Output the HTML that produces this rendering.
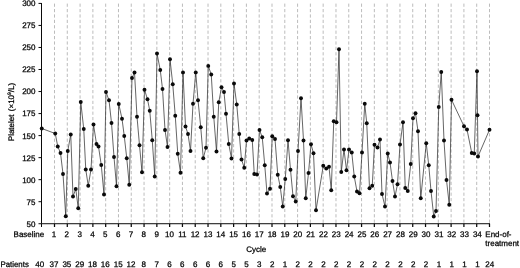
<!DOCTYPE html><html><head><meta charset="utf-8"><style>html,body{margin:0;padding:0;background:#fff}svg{display:block}text{text-rendering:geometricPrecision;font-family:"Liberation Sans",sans-serif;font-size:8px;fill:#000;stroke:#000;stroke-width:0.25px}</style></head><body>
<svg width="520" height="268" viewBox="0 0 520 268">
<rect width="520" height="268" fill="#fff"/>
<g stroke="#b0b0b0" stroke-width="0.85" stroke-dasharray="3.2 2.2" fill="none">
<line x1="54.50" y1="3.6" x2="54.50" y2="223.3"/>
<line x1="67.29" y1="3.6" x2="67.29" y2="223.3"/>
<line x1="80.09" y1="3.6" x2="80.09" y2="223.3"/>
<line x1="92.88" y1="3.6" x2="92.88" y2="223.3"/>
<line x1="105.68" y1="3.6" x2="105.68" y2="223.3"/>
<line x1="118.47" y1="3.6" x2="118.47" y2="223.3"/>
<line x1="131.26" y1="3.6" x2="131.26" y2="223.3"/>
<line x1="144.06" y1="3.6" x2="144.06" y2="223.3"/>
<line x1="156.85" y1="3.6" x2="156.85" y2="223.3"/>
<line x1="169.65" y1="3.6" x2="169.65" y2="223.3"/>
<line x1="182.44" y1="3.6" x2="182.44" y2="223.3"/>
<line x1="195.23" y1="3.6" x2="195.23" y2="223.3"/>
<line x1="208.03" y1="3.6" x2="208.03" y2="223.3"/>
<line x1="220.82" y1="3.6" x2="220.82" y2="223.3"/>
<line x1="233.62" y1="3.6" x2="233.62" y2="223.3"/>
<line x1="246.41" y1="3.6" x2="246.41" y2="223.3"/>
<line x1="259.20" y1="3.6" x2="259.20" y2="223.3"/>
<line x1="272.00" y1="3.6" x2="272.00" y2="223.3"/>
<line x1="284.79" y1="3.6" x2="284.79" y2="223.3"/>
<line x1="297.59" y1="3.6" x2="297.59" y2="223.3"/>
<line x1="310.38" y1="3.6" x2="310.38" y2="223.3"/>
<line x1="323.17" y1="3.6" x2="323.17" y2="223.3"/>
<line x1="335.97" y1="3.6" x2="335.97" y2="223.3"/>
<line x1="348.76" y1="3.6" x2="348.76" y2="223.3"/>
<line x1="361.56" y1="3.6" x2="361.56" y2="223.3"/>
<line x1="374.35" y1="3.6" x2="374.35" y2="223.3"/>
<line x1="387.14" y1="3.6" x2="387.14" y2="223.3"/>
<line x1="399.94" y1="3.6" x2="399.94" y2="223.3"/>
<line x1="412.73" y1="3.6" x2="412.73" y2="223.3"/>
<line x1="425.53" y1="3.6" x2="425.53" y2="223.3"/>
<line x1="438.32" y1="3.6" x2="438.32" y2="223.3"/>
<line x1="451.11" y1="3.6" x2="451.11" y2="223.3"/>
<line x1="463.91" y1="3.6" x2="463.91" y2="223.3"/>
<line x1="476.70" y1="3.6" x2="476.70" y2="223.3"/>
<line x1="489.50" y1="3.6" x2="489.50" y2="223.3"/>
</g>
<g stroke="#0a0a0a" stroke-width="1" fill="none">
<path d="M41.50 3.05V223.72H490.00"/>
<line x1="38.5" x2="41.50" y1="223.72" y2="223.72"/>
<line x1="38.5" x2="41.50" y1="201.69" y2="201.69"/>
<line x1="38.5" x2="41.50" y1="179.66" y2="179.66"/>
<line x1="38.5" x2="41.50" y1="157.63" y2="157.63"/>
<line x1="38.5" x2="41.50" y1="135.60" y2="135.60"/>
<line x1="38.5" x2="41.50" y1="113.57" y2="113.57"/>
<line x1="38.5" x2="41.50" y1="91.54" y2="91.54"/>
<line x1="38.5" x2="41.50" y1="69.51" y2="69.51"/>
<line x1="38.5" x2="41.50" y1="47.48" y2="47.48"/>
<line x1="38.5" x2="41.50" y1="25.45" y2="25.45"/>
<line x1="38.5" x2="41.50" y1="3.42" y2="3.42"/>
<line x1="41.50" x2="41.50" y1="223.72" y2="227"/>
<line x1="54.50" x2="54.50" y1="223.72" y2="227" stroke-width="1.25"/>
<line x1="67.29" x2="67.29" y1="223.72" y2="227" stroke-width="1.25"/>
<line x1="80.09" x2="80.09" y1="223.72" y2="227" stroke-width="1.25"/>
<line x1="92.88" x2="92.88" y1="223.72" y2="227" stroke-width="1.25"/>
<line x1="105.68" x2="105.68" y1="223.72" y2="227" stroke-width="1.25"/>
<line x1="118.47" x2="118.47" y1="223.72" y2="227" stroke-width="1.25"/>
<line x1="131.26" x2="131.26" y1="223.72" y2="227" stroke-width="1.25"/>
<line x1="144.06" x2="144.06" y1="223.72" y2="227" stroke-width="1.25"/>
<line x1="156.85" x2="156.85" y1="223.72" y2="227" stroke-width="1.25"/>
<line x1="169.65" x2="169.65" y1="223.72" y2="227" stroke-width="1.25"/>
<line x1="182.44" x2="182.44" y1="223.72" y2="227" stroke-width="1.25"/>
<line x1="195.23" x2="195.23" y1="223.72" y2="227" stroke-width="1.25"/>
<line x1="208.03" x2="208.03" y1="223.72" y2="227" stroke-width="1.25"/>
<line x1="220.82" x2="220.82" y1="223.72" y2="227" stroke-width="1.25"/>
<line x1="233.62" x2="233.62" y1="223.72" y2="227" stroke-width="1.25"/>
<line x1="246.41" x2="246.41" y1="223.72" y2="227" stroke-width="1.25"/>
<line x1="259.20" x2="259.20" y1="223.72" y2="227" stroke-width="1.25"/>
<line x1="272.00" x2="272.00" y1="223.72" y2="227" stroke-width="1.25"/>
<line x1="284.79" x2="284.79" y1="223.72" y2="227" stroke-width="1.25"/>
<line x1="297.59" x2="297.59" y1="223.72" y2="227" stroke-width="1.25"/>
<line x1="310.38" x2="310.38" y1="223.72" y2="227" stroke-width="1.25"/>
<line x1="323.17" x2="323.17" y1="223.72" y2="227" stroke-width="1.25"/>
<line x1="335.97" x2="335.97" y1="223.72" y2="227" stroke-width="1.25"/>
<line x1="348.76" x2="348.76" y1="223.72" y2="227" stroke-width="1.25"/>
<line x1="361.56" x2="361.56" y1="223.72" y2="227" stroke-width="1.25"/>
<line x1="374.35" x2="374.35" y1="223.72" y2="227" stroke-width="1.25"/>
<line x1="387.14" x2="387.14" y1="223.72" y2="227" stroke-width="1.25"/>
<line x1="399.94" x2="399.94" y1="223.72" y2="227" stroke-width="1.25"/>
<line x1="412.73" x2="412.73" y1="223.72" y2="227" stroke-width="1.25"/>
<line x1="425.53" x2="425.53" y1="223.72" y2="227" stroke-width="1.25"/>
<line x1="438.32" x2="438.32" y1="223.72" y2="227" stroke-width="1.25"/>
<line x1="451.11" x2="451.11" y1="223.72" y2="227" stroke-width="1.25"/>
<line x1="463.91" x2="463.91" y1="223.72" y2="227" stroke-width="1.25"/>
<line x1="476.70" x2="476.70" y1="223.72" y2="227" stroke-width="1.25"/>
<line x1="489.50" x2="489.50" y1="223.72" y2="227" stroke-width="1.25"/>
</g>
<g text-anchor="end">
<text x="35.5" y="226.62">50</text>
<text x="35.5" y="204.59">75</text>
<text x="35.5" y="182.56">100</text>
<text x="35.5" y="160.53">125</text>
<text x="35.5" y="138.50">150</text>
<text x="35.5" y="116.47">175</text>
<text x="35.5" y="94.44">200</text>
<text x="35.5" y="72.41">225</text>
<text x="35.5" y="50.38">250</text>
<text x="35.5" y="28.35">275</text>
<text x="35.5" y="6.32">300</text>
</g>
<text transform="translate(14.2 141.2) rotate(-90)">Platelet <tspan dx="1.1">(×10</tspan><tspan font-size="5px" dy="-3">9</tspan><tspan dy="3">/L)</tspan></text>
<g text-anchor="middle">
<text x="28.9" y="237">Baseline</text>
<text x="54.00" y="236.75">1</text>
<text x="66.83" y="236.75">2</text>
<text x="79.66" y="236.75">3</text>
<text x="92.49" y="236.75">4</text>
<text x="105.32" y="236.75">5</text>
<text x="118.15" y="236.75">6</text>
<text x="130.98" y="236.75">7</text>
<text x="143.81" y="236.75">8</text>
<text x="156.64" y="236.75">9</text>
<text x="169.47" y="236.75">10</text>
<text x="182.30" y="236.75">11</text>
<text x="195.13" y="236.75">12</text>
<text x="207.96" y="236.75">13</text>
<text x="220.79" y="236.75">14</text>
<text x="233.62" y="236.75">15</text>
<text x="246.45" y="236.75">16</text>
<text x="259.28" y="236.75">17</text>
<text x="272.11" y="236.75">18</text>
<text x="284.94" y="236.75">19</text>
<text x="297.77" y="236.75">20</text>
<text x="310.60" y="236.75">21</text>
<text x="323.43" y="236.75">22</text>
<text x="336.26" y="236.75">23</text>
<text x="349.09" y="236.75">24</text>
<text x="361.92" y="236.75">25</text>
<text x="374.75" y="236.75">26</text>
<text x="387.58" y="236.75">27</text>
<text x="400.41" y="236.75">28</text>
<text x="413.24" y="236.75">29</text>
<text x="426.07" y="236.75">30</text>
<text x="438.90" y="236.75">31</text>
<text x="451.73" y="236.75">32</text>
<text x="464.56" y="236.75">33</text>
<text x="477.39" y="236.75">34</text>
<text x="256.2" y="252">Cycle</text>
<text x="39.7" y="267">40</text>
<text x="54.00" y="267">37</text>
<text x="66.83" y="267">35</text>
<text x="79.66" y="267">29</text>
<text x="92.49" y="267">18</text>
<text x="105.32" y="267">16</text>
<text x="118.15" y="267">15</text>
<text x="130.98" y="267">12</text>
<text x="143.81" y="267">8</text>
<text x="156.64" y="267">7</text>
<text x="169.47" y="267">6</text>
<text x="182.30" y="267">6</text>
<text x="195.13" y="267">6</text>
<text x="207.96" y="267">6</text>
<text x="220.79" y="267">6</text>
<text x="233.62" y="267">5</text>
<text x="246.45" y="267">5</text>
<text x="259.28" y="267">3</text>
<text x="272.11" y="267">2</text>
<text x="284.94" y="267">1</text>
<text x="297.77" y="267">2</text>
<text x="310.60" y="267">2</text>
<text x="323.43" y="267">2</text>
<text x="336.26" y="267">2</text>
<text x="349.09" y="267">2</text>
<text x="361.92" y="267">2</text>
<text x="374.75" y="267">2</text>
<text x="387.58" y="267">2</text>
<text x="400.41" y="267">2</text>
<text x="413.24" y="267">2</text>
<text x="426.07" y="267">2</text>
<text x="438.90" y="267">1</text>
<text x="451.73" y="267">1</text>
<text x="464.56" y="267">1</text>
<text x="477.39" y="267">1</text>
</g>
<text x="485.3" y="237">End-of-</text>
<text x="485.3" y="246">treatment</text>
<text x="485.3" y="267">24</text>
<text x="0.5" y="267" textLength="28.3" lengthAdjust="spacingAndGlyphs">Patients</text>
<path d="M41.75 128.50 L55.25 133.50 L57.75 146.50 L60.50 153.00 L63.00 174.00 L65.75 216.25 L67.75 151.00 L70.75 134.50 L73.00 196.50 L75.75 189.00 L78.25 208.25 L80.75 102.00 L83.75 129.00 L85.75 169.50 L88.25 185.75 L91.00 169.50 L93.50 124.50 L96.50 144.00 L98.50 146.50 L101.25 165.00 L104.00 194.50 L106.00 92.00 L109.00 100.25 L111.50 123.00 L114.00 157.00 L116.50 186.25 L118.75 104.00 L122.00 118.75 L124.25 136.00 L126.75 158.25 L129.25 184.75 L132.00 78.00 L134.50 72.50 L137.00 116.75 L139.50 145.25 L142.00 172.25 L144.50 89.75 L147.50 99.25 L149.75 110.75 L152.25 140.25 L154.75 176.50 L157.00 53.50 L160.25 70.00 L162.50 89.00 L165.00 130.00 L167.50 147.00 L170.00 59.25 L172.75 84.25 L175.25 115.75 L177.75 153.75 L180.50 172.75 L183.00 72.40 L185.50 126.50 L188.00 134.00 L190.50 151.00 L193.00 103.75 L195.75 72.40 L198.00 100.25 L200.75 127.25 L203.25 158.25 L206.00 147.75 L208.25 65.90 L211.25 74.50 L213.75 116.75 L216.50 151.50 L218.75 102.25 L221.50 87.25 L224.00 92.00 L226.00 113.75 L228.75 144.00 L231.50 158.50 L234.00 83.50 L236.75 104.50 L239.25 134.00 L241.50 159.50 L244.25 167.75 L246.50 140.50 L249.25 138.50 L252.25 140.00 L254.25 174.00 L257.00 174.50 L259.50 130.00 L262.25 137.25 L264.75 165.25 L267.00 193.50 L270.00 188.75 L272.25 136.25 L275.00 139.00 L277.75 174.75 L280.25 187.00 L282.75 206.50 L285.25 179.00 L288.00 140.25 L290.50 169.75 L293.00 196.25 L295.75 201.50 L298.00 151.00 L301.00 98.25 L303.50 140.50 L305.75 198.25 L308.50 173.00 L311.00 144.25 L313.50 153.25 L316.00 210.25 L323.25 165.75 L326.25 168.50 L329.00 166.75 L331.25 190.25 L333.75 121.25 L336.50 122.25 L339.00 49.25 L341.25 172.00 L344.00 149.50 L346.50 170.25 L349.00 149.50 L351.75 152.50 L354.25 176.50 L357.00 191.50 L359.50 193.25 L362.00 152.50 L364.75 103.75 L366.75 123.25 L369.50 188.25 L372.25 185.75 L374.50 144.75 L377.50 147.50 L380.00 139.50 L382.00 194.00 L385.00 206.50 L387.75 153.50 L390.00 162.50 L392.50 181.00 L395.00 196.50 L397.50 184.25 L400.00 144.50 L403.00 122.25 L405.25 188.00 L407.75 191.00 L410.75 164.00 L413.00 118.25 L415.50 113.25 L418.00 131.25 L420.75 198.25 L426.25 143.25 L428.75 165.25 L431.00 191.00 L433.75 216.50 L436.00 211.00 L438.75 107.00 L441.25 72.00 L444.00 140.50 L446.50 180.00 L449.25 204.75 L451.50 99.75 L464.00 126.25 L467.00 129.50 L471.75 153.00 L474.25 153.50 L477.00 71.25 L477.50 115.25 L478.00 156.50 L489.50 129.75" fill="none" stroke="#2a2a2a" stroke-width="0.72" stroke-linejoin="round"/>
<g fill="#0a0a0a">
<circle cx="41.75" cy="128.50" r="1.95"/>
<circle cx="55.25" cy="133.50" r="1.95"/>
<circle cx="57.75" cy="146.50" r="1.95"/>
<circle cx="60.50" cy="153.00" r="1.95"/>
<circle cx="63.00" cy="174.00" r="1.95"/>
<circle cx="65.75" cy="216.25" r="1.95"/>
<circle cx="67.75" cy="151.00" r="1.95"/>
<circle cx="70.75" cy="134.50" r="1.95"/>
<circle cx="73.00" cy="196.50" r="1.95"/>
<circle cx="75.75" cy="189.00" r="1.95"/>
<circle cx="78.25" cy="208.25" r="1.95"/>
<circle cx="80.75" cy="102.00" r="1.95"/>
<circle cx="83.75" cy="129.00" r="1.95"/>
<circle cx="85.75" cy="169.50" r="1.95"/>
<circle cx="88.25" cy="185.75" r="1.95"/>
<circle cx="91.00" cy="169.50" r="1.95"/>
<circle cx="93.50" cy="124.50" r="1.95"/>
<circle cx="96.50" cy="144.00" r="1.95"/>
<circle cx="98.50" cy="146.50" r="1.95"/>
<circle cx="101.25" cy="165.00" r="1.95"/>
<circle cx="104.00" cy="194.50" r="1.95"/>
<circle cx="106.00" cy="92.00" r="1.95"/>
<circle cx="109.00" cy="100.25" r="1.95"/>
<circle cx="111.50" cy="123.00" r="1.95"/>
<circle cx="114.00" cy="157.00" r="1.95"/>
<circle cx="116.50" cy="186.25" r="1.95"/>
<circle cx="118.75" cy="104.00" r="1.95"/>
<circle cx="122.00" cy="118.75" r="1.95"/>
<circle cx="124.25" cy="136.00" r="1.95"/>
<circle cx="126.75" cy="158.25" r="1.95"/>
<circle cx="129.25" cy="184.75" r="1.95"/>
<circle cx="132.00" cy="78.00" r="1.95"/>
<circle cx="134.50" cy="72.50" r="1.95"/>
<circle cx="137.00" cy="116.75" r="1.95"/>
<circle cx="139.50" cy="145.25" r="1.95"/>
<circle cx="142.00" cy="172.25" r="1.95"/>
<circle cx="144.50" cy="89.75" r="1.95"/>
<circle cx="147.50" cy="99.25" r="1.95"/>
<circle cx="149.75" cy="110.75" r="1.95"/>
<circle cx="152.25" cy="140.25" r="1.95"/>
<circle cx="154.75" cy="176.50" r="1.95"/>
<circle cx="157.00" cy="53.50" r="1.95"/>
<circle cx="160.25" cy="70.00" r="1.95"/>
<circle cx="162.50" cy="89.00" r="1.95"/>
<circle cx="165.00" cy="130.00" r="1.95"/>
<circle cx="167.50" cy="147.00" r="1.95"/>
<circle cx="170.00" cy="59.25" r="1.95"/>
<circle cx="172.75" cy="84.25" r="1.95"/>
<circle cx="175.25" cy="115.75" r="1.95"/>
<circle cx="177.75" cy="153.75" r="1.95"/>
<circle cx="180.50" cy="172.75" r="1.95"/>
<circle cx="183.00" cy="72.40" r="1.95"/>
<circle cx="185.50" cy="126.50" r="1.95"/>
<circle cx="188.00" cy="134.00" r="1.95"/>
<circle cx="190.50" cy="151.00" r="1.95"/>
<circle cx="193.00" cy="103.75" r="1.95"/>
<circle cx="195.75" cy="72.40" r="1.95"/>
<circle cx="198.00" cy="100.25" r="1.95"/>
<circle cx="200.75" cy="127.25" r="1.95"/>
<circle cx="203.25" cy="158.25" r="1.95"/>
<circle cx="206.00" cy="147.75" r="1.95"/>
<circle cx="208.25" cy="65.90" r="1.95"/>
<circle cx="211.25" cy="74.50" r="1.95"/>
<circle cx="213.75" cy="116.75" r="1.95"/>
<circle cx="216.50" cy="151.50" r="1.95"/>
<circle cx="218.75" cy="102.25" r="1.95"/>
<circle cx="221.50" cy="87.25" r="1.95"/>
<circle cx="224.00" cy="92.00" r="1.95"/>
<circle cx="226.00" cy="113.75" r="1.95"/>
<circle cx="228.75" cy="144.00" r="1.95"/>
<circle cx="231.50" cy="158.50" r="1.95"/>
<circle cx="234.00" cy="83.50" r="1.95"/>
<circle cx="236.75" cy="104.50" r="1.95"/>
<circle cx="239.25" cy="134.00" r="1.95"/>
<circle cx="241.50" cy="159.50" r="1.95"/>
<circle cx="244.25" cy="167.75" r="1.95"/>
<circle cx="246.50" cy="140.50" r="1.95"/>
<circle cx="249.25" cy="138.50" r="1.95"/>
<circle cx="252.25" cy="140.00" r="1.95"/>
<circle cx="254.25" cy="174.00" r="1.95"/>
<circle cx="257.00" cy="174.50" r="1.95"/>
<circle cx="259.50" cy="130.00" r="1.95"/>
<circle cx="262.25" cy="137.25" r="1.95"/>
<circle cx="264.75" cy="165.25" r="1.95"/>
<circle cx="267.00" cy="193.50" r="1.95"/>
<circle cx="270.00" cy="188.75" r="1.95"/>
<circle cx="272.25" cy="136.25" r="1.95"/>
<circle cx="275.00" cy="139.00" r="1.95"/>
<circle cx="277.75" cy="174.75" r="1.95"/>
<circle cx="280.25" cy="187.00" r="1.95"/>
<circle cx="282.75" cy="206.50" r="1.95"/>
<circle cx="285.25" cy="179.00" r="1.95"/>
<circle cx="288.00" cy="140.25" r="1.95"/>
<circle cx="290.50" cy="169.75" r="1.95"/>
<circle cx="293.00" cy="196.25" r="1.95"/>
<circle cx="295.75" cy="201.50" r="1.95"/>
<circle cx="298.00" cy="151.00" r="1.95"/>
<circle cx="301.00" cy="98.25" r="1.95"/>
<circle cx="303.50" cy="140.50" r="1.95"/>
<circle cx="305.75" cy="198.25" r="1.95"/>
<circle cx="308.50" cy="173.00" r="1.95"/>
<circle cx="311.00" cy="144.25" r="1.95"/>
<circle cx="313.50" cy="153.25" r="1.95"/>
<circle cx="316.00" cy="210.25" r="1.95"/>
<circle cx="323.25" cy="165.75" r="1.95"/>
<circle cx="326.25" cy="168.50" r="1.95"/>
<circle cx="329.00" cy="166.75" r="1.95"/>
<circle cx="331.25" cy="190.25" r="1.95"/>
<circle cx="333.75" cy="121.25" r="1.95"/>
<circle cx="336.50" cy="122.25" r="1.95"/>
<circle cx="339.00" cy="49.25" r="1.95"/>
<circle cx="341.25" cy="172.00" r="1.95"/>
<circle cx="344.00" cy="149.50" r="1.95"/>
<circle cx="346.50" cy="170.25" r="1.95"/>
<circle cx="349.00" cy="149.50" r="1.95"/>
<circle cx="351.75" cy="152.50" r="1.95"/>
<circle cx="354.25" cy="176.50" r="1.95"/>
<circle cx="357.00" cy="191.50" r="1.95"/>
<circle cx="359.50" cy="193.25" r="1.95"/>
<circle cx="362.00" cy="152.50" r="1.95"/>
<circle cx="364.75" cy="103.75" r="1.95"/>
<circle cx="366.75" cy="123.25" r="1.95"/>
<circle cx="369.50" cy="188.25" r="1.95"/>
<circle cx="372.25" cy="185.75" r="1.95"/>
<circle cx="374.50" cy="144.75" r="1.95"/>
<circle cx="377.50" cy="147.50" r="1.95"/>
<circle cx="380.00" cy="139.50" r="1.95"/>
<circle cx="382.00" cy="194.00" r="1.95"/>
<circle cx="385.00" cy="206.50" r="1.95"/>
<circle cx="387.75" cy="153.50" r="1.95"/>
<circle cx="390.00" cy="162.50" r="1.95"/>
<circle cx="392.50" cy="181.00" r="1.95"/>
<circle cx="395.00" cy="196.50" r="1.95"/>
<circle cx="397.50" cy="184.25" r="1.95"/>
<circle cx="400.00" cy="144.50" r="1.95"/>
<circle cx="403.00" cy="122.25" r="1.95"/>
<circle cx="405.25" cy="188.00" r="1.95"/>
<circle cx="407.75" cy="191.00" r="1.95"/>
<circle cx="410.75" cy="164.00" r="1.95"/>
<circle cx="413.00" cy="118.25" r="1.95"/>
<circle cx="415.50" cy="113.25" r="1.95"/>
<circle cx="418.00" cy="131.25" r="1.95"/>
<circle cx="420.75" cy="198.25" r="1.95"/>
<circle cx="426.25" cy="143.25" r="1.95"/>
<circle cx="428.75" cy="165.25" r="1.95"/>
<circle cx="431.00" cy="191.00" r="1.95"/>
<circle cx="433.75" cy="216.50" r="1.95"/>
<circle cx="436.00" cy="211.00" r="1.95"/>
<circle cx="438.75" cy="107.00" r="1.95"/>
<circle cx="441.25" cy="72.00" r="1.95"/>
<circle cx="444.00" cy="140.50" r="1.95"/>
<circle cx="446.50" cy="180.00" r="1.95"/>
<circle cx="449.25" cy="204.75" r="1.95"/>
<circle cx="451.50" cy="99.75" r="1.95"/>
<circle cx="464.00" cy="126.25" r="1.95"/>
<circle cx="467.00" cy="129.50" r="1.95"/>
<circle cx="471.75" cy="153.00" r="1.95"/>
<circle cx="474.25" cy="153.50" r="1.95"/>
<circle cx="477.00" cy="71.25" r="1.95"/>
<circle cx="477.50" cy="115.25" r="1.95"/>
<circle cx="478.00" cy="156.50" r="1.95"/>
<circle cx="489.50" cy="129.75" r="1.95"/>
</g>
</svg></body></html>
